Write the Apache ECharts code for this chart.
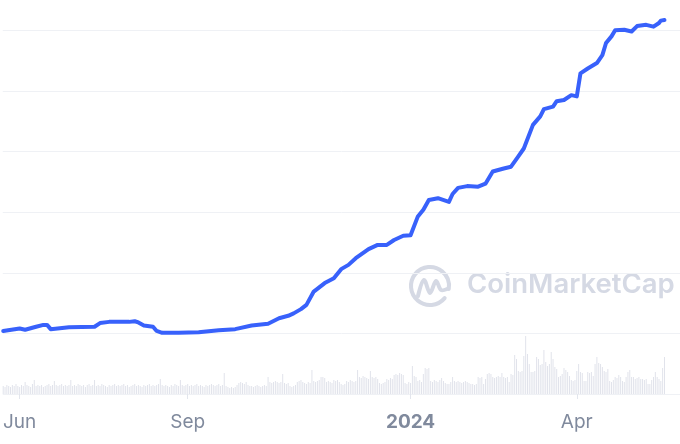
<!DOCTYPE html>
<html>
<head>
<meta charset="utf-8">
<script src="https://cdn.jsdelivr.net/npm/echarts@6/dist/echarts.min.js"></script>
<style>
  html, body { margin: 0; padding: 0; background: #fff; }
  #chart { width: 680px; height: 444px; }
</style>
</head>
<body>
<div id="chart"></div>
<script>
// price line
const lineDates = [
  '2023-05-23','2023-06-01','2023-06-04','2023-06-10','2023-06-14','2023-06-16','2023-06-18','2023-06-28',
  '2023-07-12','2023-07-15','2023-07-20','2023-07-31','2023-08-03','2023-08-05','2023-08-08','2023-08-13',
  '2023-08-15','2023-08-18','2023-08-27','2023-09-07','2023-09-18','2023-09-27','2023-10-06','2023-10-15',
  '2023-10-21','2023-10-26','2023-10-29','2023-11-02','2023-11-05','2023-11-09','2023-11-15','2023-11-20',
  '2023-11-24','2023-11-28','2023-12-02','2023-12-09','2023-12-14','2023-12-19','2023-12-23','2023-12-28',
  '2024-01-01','2024-01-05','2024-01-08','2024-01-11','2024-01-16','2024-01-22','2024-01-24','2024-01-27',
  '2024-02-01','2024-02-07','2024-02-11','2024-02-15','2024-02-21','2024-02-25','2024-02-29','2024-03-03',
  '2024-03-08','2024-03-12','2024-03-14','2024-03-19','2024-03-21','2024-03-25','2024-03-29','2024-04-01',
  '2024-04-03','2024-04-07','2024-04-12','2024-04-15','2024-04-17','2024-04-20','2024-04-22','2024-04-27',
  '2024-04-28','2024-05-01','2024-05-04','2024-05-09','2024-05-13','2024-05-16','2024-05-17','2024-05-19'
];
const lineValues = [
  1.04, 1.08, 1.06, 1.11, 1.14, 1.14, 1.07, 1.10,
  1.11, 1.17, 1.19, 1.19, 1.20, 1.18, 1.13, 1.11,
  1.04, 1.01, 1.01, 1.02, 1.05, 1.07, 1.13, 1.16,
  1.25, 1.29, 1.33, 1.40, 1.47, 1.69, 1.83, 1.91,
  2.06, 2.13, 2.24, 2.39, 2.46, 2.46, 2.54, 2.61,
  2.62, 2.93, 3.04, 3.20, 3.23, 3.17, 3.30, 3.40,
  3.43, 3.42, 3.47, 3.67, 3.72, 3.75, 3.92, 4.05,
  4.44, 4.58, 4.70, 4.74, 4.83, 4.85, 4.93, 4.91,
  5.29, 5.37, 5.46, 5.59, 5.79, 5.90, 6.00, 6.01,
  6.02, 5.98, 6.07, 6.09, 6.06, 6.12, 6.16, 6.17
];

// daily volume from 2023-05-23
const volumeStart = '2023-05-23';
const volumes = [
  8,7,9,8,7,9,8,10,8,7, 9,8,12,9,8,7,10,14,8,9,
  8,9,7,8,9,10,8,9,13,9, 8,9,10,8,9,8,9,14,8,9,
  8,10,9,8,9,7,9,10,8,9, 14,8,9,8,10,9,8,7,9,8,
  9,10,8,9,8,9,10,8,9,7, 8,9,10,8,9,8,7,9,8,9,
  10,8,9,8,9,10,15,9,8,9, 8,7,9,8,10,9,8,14,9,8,
  9,10,8,9,8,9,10,8,9,8, 7,9,8,9,10,9,8,9,10,8,
  9,21,8,7,6,7,6,7,9,11, 12,11,10,12,9,8,8,7,8,9,
  8,7,8,9,8,17,12,11,12,13, 12,11,12,20,11,10,11,8,7,8,
  9,12,13,14,12,11,10,12,11,24, 13,12,13,14,17,17,16,12,13,12,
  11,14,13,14,12,10,9,10,13,12, 14,13,12,13,24,17,16,18,17,16,
  15,23,17,16,17,15,11,10,11,12, 15,14,16,15,19,20,19,21,20,19,
  11,10,12,11,28,18,17,13,14,12, 20,26,25,26,13,12,14,13,12,14,
  16,13,11,10,10,12,17,13,12,13, 12,11,12,13,12,11,10,10,9,10,
  17,16,17,10,15,20,21,20,17,16, 17,18,17,21,17,16,17,12,20,19,
  39,35,23,22,23,38,58,40,30,22, 22,23,37,35,29,30,44,32,28,30,
  42,35,27,25,17,18,20,26,24,22, 18,14,13,14,23,30,22,21,13,13,
  22,21,22,18,30,37,31,30,27,23, 22,25,13,12,14,17,16,19,17,13,
  12,17,22,24,17,17,15,16,17,15, 15,14,15,10,10,14,17,22,17,15,
  13,26,37
];

const tickDates = ['2023-06-01', '2023-09-01', '2024-01-01', '2024-04-01'];
const tickLabels = ['Jun', 'Sep', '2024', 'Apr'];

function toTime(s, addDays) {
  const p = s.split('-').map(Number);
  return new Date(p[0], p[1] - 1, p[2] + (addDays || 0)).getTime();
}
const DAY = 86400000;

const lineData = lineDates.map((d, i) => [toTime(d), lineValues[i]]);
const volumeData = volumes.map((v, i) => [toTime(volumeStart, i), v]);
const tickTimes = tickDates.map((d) => toTime(d));

const chart = echarts.init(document.getElementById('chart'));

const logoColor = '#d5d9e4';

chart.setOption({
  animation: false,
  grid: { left: 0, right: 0, top: 0, bottom: 50 },
  xAxis: {
    type: 'value',
    min: toTime('2023-05-23') - 0.25 * DAY,
    max: toTime('2024-05-27') + 0.5 * DAY,
    axisLine: { show: false },
    axisTick: {
      show: true,
      customValues: tickTimes,
      length: 5,
      lineStyle: { color: '#e3e6ed' }
    },
    splitLine: { show: false },
    axisLabel: {
      customValues: tickTimes,
      margin: 19,
      fontFamily: 'Inter',
      fontSize: 19,
      color: '#808a9d',
      formatter: (val) => {
        const i = tickTimes.indexOf(val);
        const txt = i >= 0 ? tickLabels[i] : '';
        return txt === '2024' ? '{b|' + txt + '}' : txt;
      },
      rich: {
        b: { fontFamily: 'Inter', fontSize: 19, fontWeight: 700, color: '#808a9d' }
      }
    }
  },
  yAxis: [
    {
      type: 'value',
      min: 0,
      max: 6.5,
      interval: 1,
      axisLabel: { show: false },
      axisLine: { show: false },
      axisTick: { show: false },
      splitLine: { show: true, showMaxLine: false, lineStyle: { color: '#eff1f5', width: 1 } }
    },
    {
      type: 'value',
      min: 0,
      max: 394,
      axisLabel: { show: false },
      axisLine: { show: false },
      axisTick: { show: false },
      splitLine: { show: false }
    }
  ],
  graphic: [
    {
      type: 'arc',
      z: 0,
      shape: { cx: 430, cy: 286, r: 19, startAngle: Math.PI * 0.22, endAngle: Math.PI * 2.05 },
      style: { stroke: logoColor, lineWidth: 4, fill: null, lineCap: 'round' }
    },
    {
      type: 'polyline',
      z: 0,
      shape: {
        points: [[418, 296], [424, 280], [430, 293], [436, 281], [441, 290], [447, 289]],
        smooth: 0.35
      },
      style: { stroke: logoColor, lineWidth: 4, fill: null, lineCap: 'round', lineJoin: 'round' }
    },
    {
      type: 'text',
      z: 0,
      left: 467,
      top: 271,
      style: {
        text: 'CoinMarketCap',
        fontFamily: 'Inter',
        fontSize: 27.5,
        fontWeight: 600,
        fill: logoColor
      }
    }
  ],
  series: [
    {
      type: 'bar',
      yAxisIndex: 1,
      data: volumeData,
      barWidth: 1,
      itemStyle: { color: '#e1e3eb' },
      z: 1
    },
    {
      type: 'line',
      data: lineData,
      showSymbol: false,
      clip: false,
      lineStyle: { color: '#3861fb', width: 4, cap: 'round', join: 'round' },
      z: 3
    }
  ]
});
</script>
</body>
</html>
